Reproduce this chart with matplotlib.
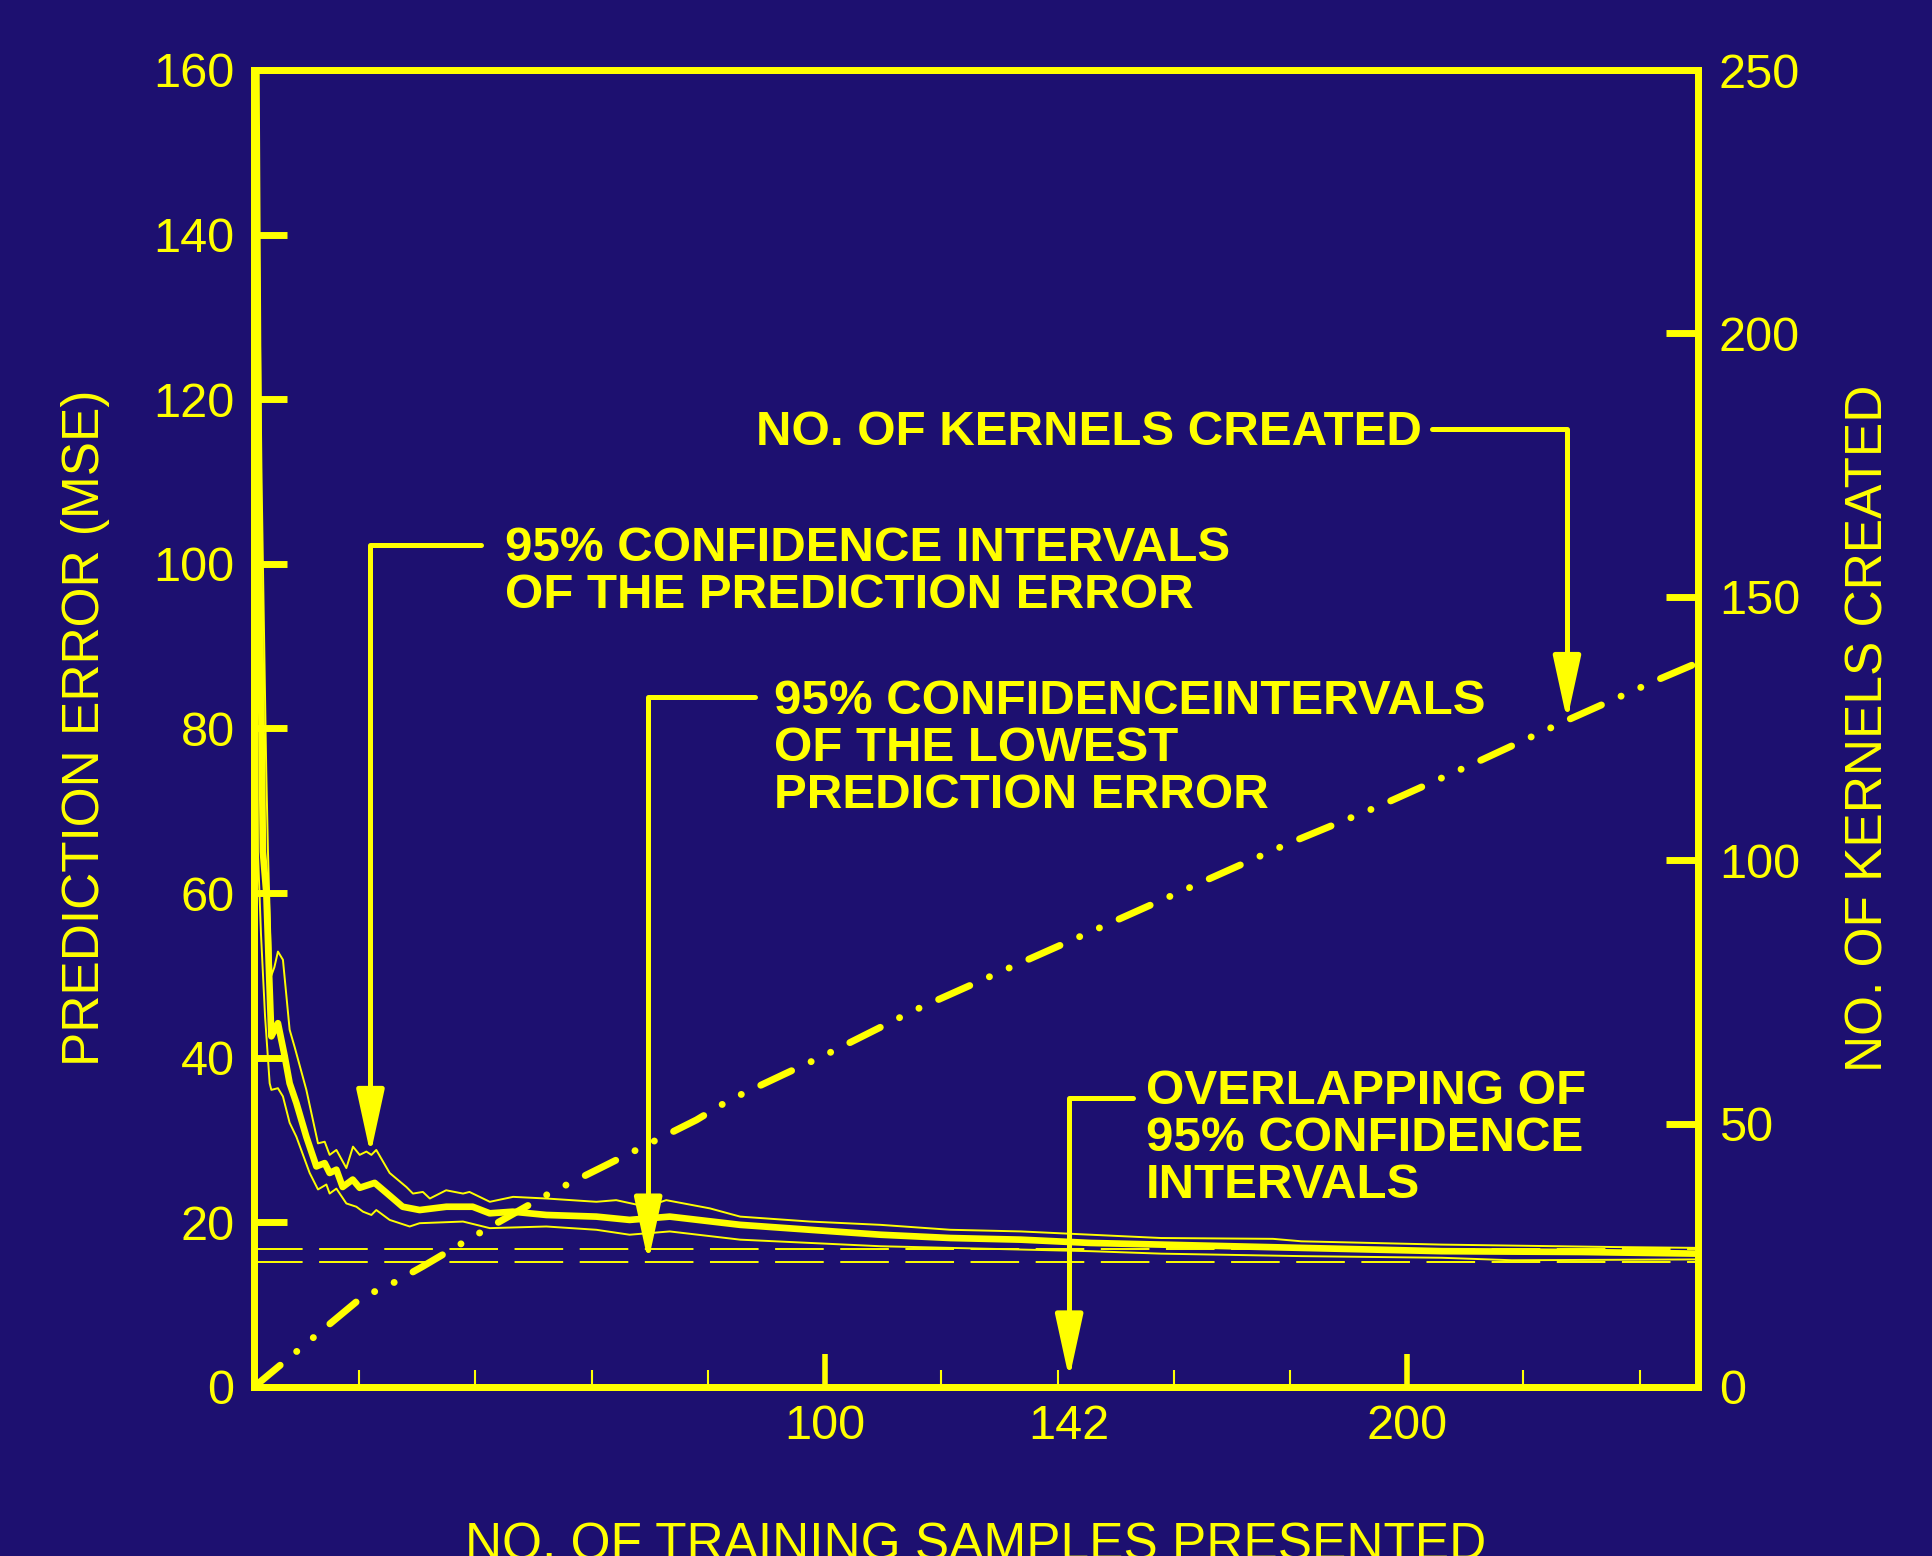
import numpy as np
import matplotlib
matplotlib.use("Agg")
import matplotlib.pyplot as plt

plt.rcParams['font.family'] = ['Liberation Sans', 'DejaVu Sans']

YEL = '#ffff00'
BG = '#1d1070'

# prediction error (MSE), left axis
x_main = [2.4, 2.9, 3.3, 3.53, 4.12, 4.6, 4.98, 6.11, 7.27, 8.12, 9.28, 10.99, 12.71, 14.14, 14.99,
          16.15, 17.23, 18.95, 20.15, 22.73, 24.73, 27.53, 30.45, 35.04, 39.56, 42.48, 46.43, 52.22,
          60.8, 66.5, 73.4, 85.5, 97.5, 109.6, 121.6, 133.7, 145.7, 157.8, 181.9, 206, 230, 250]
y_main = [160, 100, 80, 65, 60, 50, 42.6, 44.2, 40.2, 36.9, 34.5, 30.4, 26.8, 27.2, 26,
          26.4, 24.3, 25.2, 24.2, 24.8, 23.6, 21.9, 21.5, 21.9, 21.9, 21.1, 21.3, 20.9,
          20.7, 20.3, 20.7, 19.7, 19.1, 18.5, 18.1, 17.9, 17.5, 17.3, 16.9, 16.5, 16.4, 16.2]

x_up = [2.5, 3.3, 4.1, 4.4, 4.98, 5.5, 6.11, 6.97, 8.12, 8.98, 10.99, 12.99, 14.14, 14.99, 16.15,
        17.86, 19.0, 20.15, 21.3, 22.16, 23.0, 25.3, 28.17, 29.3, 31.0, 32.2, 35.0, 37.9, 39.0,
        42.5, 46.5, 52.2, 60.8, 64.2, 69.4, 72.8, 80.3, 85.5, 97.5, 109.6, 121.6, 133.7, 145.7,
        157.8, 177, 181.9, 206, 236.1, 250]
y_up = [160, 110, 75, 65, 50, 51, 52.9, 51.9, 43.4, 41.3, 36.1, 29.6, 29.8, 28.2, 28.8,
        26.6, 29.2, 28.2, 28.6, 28.2, 28.8, 26, 24.3, 23.5, 23.7, 22.9, 23.9, 23.5, 23.7,
        22.5, 23.1, 22.9, 22.5, 22.7, 21.9, 22.7, 21.7, 20.7, 20.1, 19.7, 19.1, 18.9, 18.5,
        18.1, 18.0, 17.7, 17.3, 17.0, 16.9]

x_lo = [2.3, 2.5, 2.68, 3.2, 3.9, 4.69, 4.98, 6.11, 6.97, 8.12, 9.28, 11.56, 12.99, 14.43, 14.99,
        16.15, 17.86, 19.58, 20.72, 22.16, 23.0, 25.3, 28.74, 30.45, 37.9, 42.5, 52.2, 60.8,
        66.5, 73.4, 85.5, 109.6, 133.7, 145.7, 157.8, 181.9, 206, 218, 250]
y_lo = [160, 100, 65, 55, 45, 36.9, 36.1, 36.3, 35.3, 32.1, 30.4, 26, 24.0, 24.6, 23.5,
        24.1, 22.3, 21.9, 21.3, 20.9, 21.5, 20.3, 19.5, 19.9, 20.1, 19.3, 19.5, 19.1,
        18.5, 18.9, 17.9, 17.1, 16.7, 16.5, 16.2, 15.9, 15.7, 15.4, 15.5]

# 95% confidence interval of the lowest prediction error
lowest_ci = [16.8, 15.2]

# kernels created, right axis
x_k = [2, 20.7, 24.7, 31.0, 40.2, 52.8, 61.9, 78.0, 83.7, 92.9, 99.7, 115.2, 131.2, 147.3,
       163.3, 179.3, 195.3, 211.4, 227.4, 243.4, 250]
y_k = [0, 17.2, 19.0, 22.9, 28.9, 36.8, 41.8, 50.7, 54.5, 59.3, 62.8, 71.4, 79.3, 87.2,
       95.1, 103.0, 110.3, 118.3, 126.5, 134.4, 137.5]

left_ticks = list(range(0, 161, 20))
right_ticks = list(range(0, 251, 50))
x_major = [100, 142, 200]
x_minor = [20, 40, 60, 80, 120, 140, 160, 180, 220, 240]

fig = plt.figure(figsize=(19.32, 15.56), dpi=100, facecolor=BG)
ax = fig.add_axes([254 / 1932, 169 / 1556, 1444 / 1932, 1317 / 1556])
ax.set_facecolor(BG)
ax.set_xlim(2, 250)
ax.set_ylim(0, 160)

ax.plot(x_up, y_up, color=YEL, lw=1.4)
ax.plot(x_lo, y_lo, color=YEL, lw=1.4)
ax.plot(x_main, y_main, color=YEL, lw=4.8, solid_joinstyle='round')
for lv in lowest_ci:
    ax.axhline(lv, color=YEL, lw=1.4, dashes=(25, 8.5))

ax2 = ax.twinx()
ax2.set_ylim(0, 250)
ax2.plot(x_k, y_k, color=YEL, lw=5, dashes=(4.9, 3.1, 0.01, 3.1, 0.01, 3.1),
         dash_capstyle='round')

for a in (ax, ax2):
    for sp in a.spines.values():
        sp.set_color(YEL)
        sp.set_linewidth(5)

ax.set_yticks(left_ticks)
ax.tick_params(axis='y', direction='in', length=24, width=5, colors=YEL,
               labelsize=35, pad=14)
ax2.set_yticks(right_ticks)
ax2.tick_params(axis='y', direction='in', length=23, width=5, colors=YEL,
                labelsize=35, pad=15)

ax.set_xticks(x_major)
ax.set_xticklabels([str(v) for v in x_major])
ax.set_xticks(x_minor, minor=True)
ax.tick_params(axis='x', which='major', direction='in', length=24, width=4,
               colors=YEL, labelsize=35, pad=12)
ax.tick_params(axis='x', which='minor', direction='in', length=12, width=1.5,
               colors=YEL)
ax.xaxis.get_major_ticks()[1].tick1line.set_visible(False)

fig.text(86 / 1932, 1 - 728 / 1556, 'PREDICTION ERROR (MSE)', rotation=90,
         ha='center', va='center', fontsize=37, color=YEL)
fig.text(1869 / 1932, 1 - 728 / 1556, 'NO. OF KERNELS CREATED', rotation=90,
         ha='center', va='center', fontsize=37, color=YEL)
fig.text(976 / 1932, -0.002, 'NO. OF TRAINING SAMPLES PRESENTED',
         ha='center', va='baseline', fontsize=37, color=YEL)

# annotations
txt = dict(color=YEL, fontsize=35.5, fontweight='bold', ha='left', va='center',
           linespacing=1.06)
ax.text(88.3, 116.0, 'NO. OF KERNELS CREATED', **txt)
ax.text(45.05, 99.0, '95% CONFIDENCE INTERVALS\nOF THE PREDICTION ERROR', **txt)
ax.text(91.3, 77.6, '95% CONFIDENCEINTERVALS\nOF THE LOWEST\nPREDICTION ERROR', **txt)
ax.text(155.2, 30.2, 'OVERLAPPING OF\n95% CONFIDENCE\nINTERVALS', **txt)

arw = dict(arrowstyle='-|>,head_length=3.9,head_width=0.85', mutation_scale=10,
           lw=3.6, color=YEL, shrinkA=0, shrinkB=0,
           connectionstyle='angle,angleA=0,angleB=90,rad=0')

ax.annotate('', xy=(227.5, np.interp(227.5, x_k, y_k)), xycoords=ax2.transData,
            xytext=(204.3, 116.4), textcoords=ax.transData, arrowprops=arw)
ax.annotate('', xy=(22.0, np.interp(22.0, x_up, y_up)), xytext=(41.0, 102.3),
            arrowprops=arw)
ax.annotate('', xy=(69.7, lowest_ci[1]), xytext=(88.0, 83.8), arrowprops=arw)
ax.annotate('', xy=(142, 1.0), xytext=(153.0, 35.1), arrowprops=arw)

fig.savefig('out.png', dpi=100, facecolor=BG)
